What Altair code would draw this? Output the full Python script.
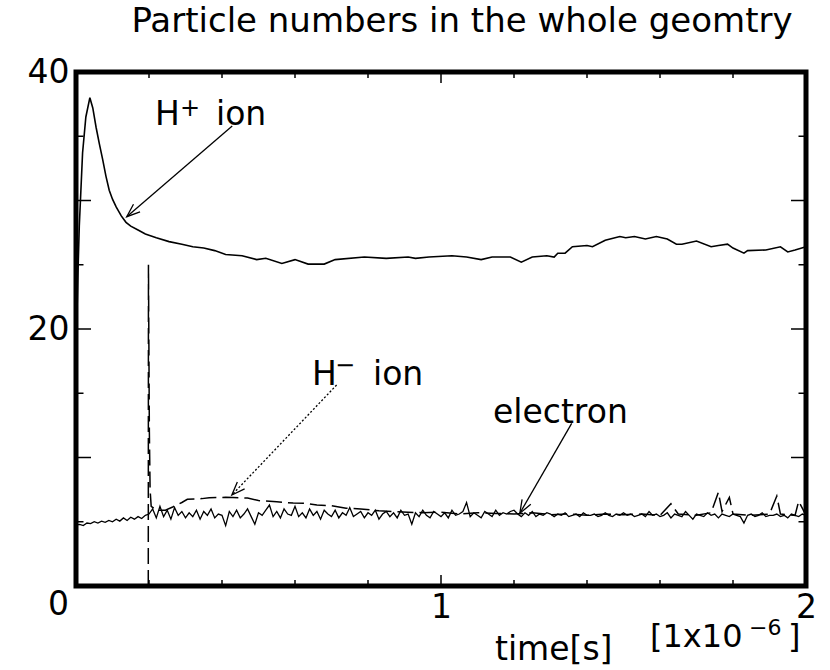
import math
import altair as alt
import pandas as pd

# ---------------- data ----------------
title_text = "Particle numbers in the whole geomtry"
x_label_values = [1, 2]
y_label_values = [20, 40]

hplus_t = [0, 0.005, 0.009, 0.018, 0.027, 0.038, 0.046, 0.055, 0.064, 0.073, 0.082,
           0.091, 0.10, 0.11, 0.124, 0.137, 0.15, 0.17, 0.19, 0.22, 0.255, 0.29,
           0.32, 0.35, 0.38, 0.41, 0.455, 0.495, 0.52, 0.564, 0.6, 0.636, 0.68,
           0.71, 0.79, 0.85, 0.91, 0.93, 0.967, 1.03, 1.07, 1.11, 1.14, 1.19,
           1.22, 1.25, 1.29, 1.31, 1.32, 1.34, 1.36, 1.40, 1.415, 1.45, 1.49,
           1.506, 1.53, 1.56, 1.59, 1.62, 1.645, 1.66, 1.70, 1.74, 1.76, 1.785,
           1.80, 1.83, 1.84, 1.89, 1.93, 1.95, 1.97, 2.0]
hplus_n = [18, 24, 28, 33.7, 36.5, 38.0, 37.2, 35.7, 34.4, 33.2, 31.9,
           30.8, 30.1, 29.5, 28.8, 28.3, 28.0, 27.7, 27.4, 27.1, 26.8, 26.6,
           26.4, 26.3, 26.1, 25.8, 25.7, 25.4, 25.5, 25.1, 25.4, 25.05, 25.05,
           25.4, 25.6, 25.5, 25.6, 25.5, 25.6, 25.7, 25.6, 25.4, 25.6, 25.6,
           25.2, 25.6, 25.7, 25.6, 25.9, 25.9, 26.4, 26.5, 26.4, 26.9, 27.2,
           27.1, 27.2, 27.0, 27.2, 27.0, 26.6, 26.6, 26.85, 26.4, 26.5, 26.6,
           26.3, 25.9, 26.1, 26.15, 26.4, 26.0, 26.15, 26.4]

hminus_t = [0.198, 0.1985, 0.201, 0.203, 0.206, 0.22, 0.245, 0.265, 0.29, 0.305,
            0.345, 0.365, 0.41, 0.43, 0.47, 0.5, 0.55, 0.595, 0.63, 0.66, 0.70,
            0.74, 0.78, 0.83, 0.88, 0.95, 1.0, 1.05, 1.1, 1.15, 1.2, 1.25, 1.3,
            1.35, 1.4, 1.45, 1.5, 1.55, 1.6, 1.63, 1.65, 1.7, 1.74, 1.76, 1.77,
            1.79, 1.8, 1.85, 1.9, 1.92, 1.93, 1.97, 1.98, 2.0]
hminus_n = [0, 25.0, 12.0, 7.5, 6.2, 5.9, 5.9, 6.15, 6.5, 6.75,
            6.8, 6.87, 6.9, 6.88, 6.85, 6.65, 6.55, 6.45, 6.43, 6.3, 6.25,
            6.05, 6.0, 5.85, 5.78, 5.7, 5.75, 5.6, 5.7, 5.65, 5.6, 5.7, 5.55,
            5.6, 5.5, 5.6, 5.55, 5.6, 5.5, 6.4, 5.6, 5.5, 5.7, 7.3, 5.8,
            6.9, 5.6, 5.5, 5.6, 7.0, 5.6, 5.5, 6.6, 5.5]

electron_n = [4.75, 4.8, 4.7, 4.9, 4.85, 5.0, 4.9, 5.05, 4.95, 5.1, 5.0, 5.2, 5.05, 5.3, 5.1, 5.35, 5.2, 5.4, 5.25, 5.5, 5.6,
              6.0, 5.3, 6.2, 5.4, 5.9, 5.2, 6.1, 5.5, 5.8, 5.3,
              5.7, 5.4, 5.9, 5.2, 5.8, 5.5, 6.0, 5.3, 5.6, 5.5,
              4.7, 5.8, 5.4, 5.9, 5.3, 5.6, 6.0, 5.4, 4.8, 5.7,
              5.5, 5.9, 6.3, 5.4, 5.8, 5.3, 6.0, 5.6, 5.5, 6.2,
              5.4, 5.7, 5.3, 6.0, 5.5, 5.8, 5.2, 5.9, 5.6, 5.4,
              5.9, 5.3, 5.7, 5.5, 6.1, 5.4, 5.6, 5.8, 5.3, 5.7,
              5.5, 5.9, 5.2, 5.6, 5.8, 5.4, 5.7, 5.3, 5.9, 5.5,
              5.6, 4.8, 5.7, 5.4, 5.9, 5.5, 5.3, 5.8, 5.6, 5.4,
              5.7, 5.3, 5.9, 5.5, 5.6, 5.8, 6.5, 5.4, 5.7, 5.5,
              5.3, 5.8, 5.6, 5.4, 5.9, 5.5, 5.7, 5.6, 5.8, 5.9,
              5.6, 5.4, 5.7, 5.5, 5.8, 5.4, 5.6, 5.5, 5.7, 5.6,
              5.4, 5.6, 5.5, 5.7, 5.4, 5.5, 5.6, 5.4, 5.7, 5.5,
              5.5, 5.6, 5.4, 5.5, 5.7, 5.5, 5.4, 5.6, 5.5, 5.7,
              5.5, 5.6, 5.4, 5.5, 5.6, 5.4, 5.8, 5.5, 5.6, 5.4,
              5.5, 5.7, 5.3, 5.6, 5.5, 5.4, 5.8, 5.5, 5.2, 5.6,
              5.5, 5.4, 5.7, 5.5, 5.6, 5.3, 5.6, 5.5, 5.4, 5.6,
              5.5, 5.4, 4.9, 5.5, 5.6, 5.4, 5.5, 5.7, 5.4, 5.5,
              5.5, 5.6, 5.4, 5.5, 5.3, 5.6, 5.5, 5.4, 5.6, 5.5]
electron_t = [round(i * 0.01, 2) for i in range(len(electron_n))]

x_ticks_minor = [0.2, 0.4, 0.6, 0.8, 1.2, 1.4, 1.6, 1.8]
x_ticks_major = [1.0]
y_ticks_minor = [5, 15, 25, 35]
y_ticks_major = [10, 20, 30]

# arrows: tail (t0, n0) -> head (t1, n1)
arrow_name = ["H+", "H-", "electron"]
arrow_t0 = [0.428, 0.714, 1.358]
arrow_n0 = [35.8, 15.64, 12.66]
arrow_t1 = [0.139, 0.427, 1.216]
arrow_n1 = [28.74, 7.08, 5.66]

label_text = ["H", "ion", "H", "ion", "electron"]
label_t = [0.2164, 0.3836, 0.6466, 0.8137, 1.1425]
label_n = [35.88, 35.88, 15.64, 15.64, 12.69]

sup_text = ["+", "\u2212"]
sup_t = [0.2850, 0.7096]
sup_n = [36.54, 16.54]

# ---------------- layout ----------------
W, H = 730, 514
FONT = "DejaVu Sans"
PX_T = W / 2.0
PX_N = H / 40.0

xs = alt.Scale(domain=[0, 2], nice=False, zero=False)
ys = alt.Scale(domain=[0, 40], nice=False, zero=False)

x_axis = alt.Axis(values=x_label_values, ticks=False, domain=False, grid=False,
                  labelFontSize=33, labelFont=FONT, labelColor="black",
                  labelPadding=5, labelFlush=False, title=None, format="d")
y_axis = alt.Axis(values=y_label_values, ticks=False, domain=False, grid=False,
                  labelFontSize=33, labelFont=FONT, labelColor="black",
                  labelPadding=7, labelFlush=False, title=None, format="d")


def X(field):
    return alt.X(field, type="quantitative", scale=xs, axis=x_axis, title=None)


def Y(field):
    return alt.Y(field, type="quantitative", scale=ys, axis=y_axis, title=None)


hplus_df = pd.DataFrame({"t": hplus_t, "n": hplus_n})
hminus_df = pd.DataFrame({"t": hminus_t, "n": hminus_n, "i": list(range(len(hminus_t)))})
elec_df = pd.DataFrame({"t": electron_t, "n": electron_n})

electron = alt.Chart(elec_df).mark_line(color="black", strokeWidth=1.3).encode(
    x=X("t"), y=Y("n"))
hminus = alt.Chart(hminus_df).mark_line(color="black", strokeWidth=1.5, strokeDash=[16, 6]).encode(
    x=X("t"), y=Y("n"), order="i:Q")
hplus = alt.Chart(hplus_df).mark_line(color="black", strokeWidth=1.6).encode(
    x=X("t"), y=Y("n"))

# arrows
arr_rows = []
head_rows = []
for k in range(len(arrow_name)):
    arr_rows.append({"a": arrow_name[k], "t": arrow_t0[k], "n": arrow_n0[k], "o": 0})
    arr_rows.append({"a": arrow_name[k], "t": arrow_t1[k], "n": arrow_n1[k], "o": 1})
    dx = (arrow_t1[k] - arrow_t0[k]) * PX_T
    dy = -(arrow_n1[k] - arrow_n0[k]) * PX_N
    ang = math.degrees(math.atan2(dy, dx)) % 360
    head_rows.append({"a": arrow_name[k], "t": arrow_t1[k], "n": arrow_n1[k], "ang": ang})
arr_df = pd.DataFrame(arr_rows)
head_df = pd.DataFrame(head_rows)

solid_arrows = alt.Chart(arr_df).transform_filter("datum.a != 'H-'").mark_line(
    color="black", strokeWidth=1.3).encode(x=X("t"), y=Y("n"), detail="a:N", order="o:Q")
dotted_arrow = alt.Chart(arr_df).transform_filter("datum.a == 'H-'").mark_line(
    color="black", strokeWidth=1.3, strokeDash=[2, 2]).encode(x=X("t"), y=Y("n"), detail="a:N", order="o:Q")
heads = alt.Chart(head_df).mark_point(
    shape="M -1 -0.38 L 0 0 L -1 0.38", filled=False, stroke="black",
    strokeWidth=1.3, size=700, opacity=1).encode(
    x=X("t"), y=Y("n"), angle=alt.Angle("ang:Q", scale=None))

# labels
lab_df = pd.DataFrame({"s": label_text, "t": label_t, "n": label_n})
labels = alt.Chart(lab_df).mark_text(font=FONT, fontSize=33, align="left",
                                     baseline="alphabetic", color="black").encode(
    x=X("t"), y=Y("n"), text="s:N")
sup_df = pd.DataFrame({"s": sup_text, "t": sup_t, "n": sup_n})
sups = alt.Chart(sup_df).mark_text(font=FONT, fontSize=24, align="left",
                                   baseline="alphabetic", color="black").encode(
    x=X("t"), y=Y("n"), text="s:N")

zero_df = pd.DataFrame({"s": ["0"], "t": [0], "n": [0]})
zero_label = alt.Chart(zero_df).mark_text(font=FONT, fontSize=33, align="right",
                                          baseline="middle", dx=-7, dy=19,
                                          color="black").encode(
    x=X("t"), y=Y("n"), text="s:N")


# ticks drawn inward
def xticks(vals, length, bottom=True):
    d = pd.DataFrame({"v": vals})
    if bottom:
        yy, yy2 = alt.value(H), alt.value(H - length)
    else:
        yy, yy2 = alt.value(0), alt.value(length)
    return alt.Chart(d).mark_rule(color="black", strokeWidth=1.5).encode(x=X("v"), y=yy, y2=yy2)


def yticks(vals, length, left=True):
    d = pd.DataFrame({"v": vals})
    if left:
        xx, xx2 = alt.value(0), alt.value(length)
    else:
        xx, xx2 = alt.value(W), alt.value(W - length)
    return alt.Chart(d).mark_rule(color="black", strokeWidth=1.5).encode(y=Y("v"), x=xx, x2=xx2)


ticks = [
    xticks(x_ticks_minor, 6, True), xticks(x_ticks_major, 11, True),
    xticks(x_ticks_minor, 6, False), xticks(x_ticks_major, 11, False),
    yticks(y_ticks_minor, 7.5, True), yticks(y_ticks_major, 15, True),
    yticks(y_ticks_minor, 7.5, False), yticks(y_ticks_major, 15, False),
]


# title and axis unit texts (page layout text)
def free_text(s, x, y, size, align="left"):
    d = pd.DataFrame({"s": [s]})
    return alt.Chart(d).mark_text(font=FONT, fontSize=size, align=align,
                                  baseline="alphabetic", color="black").encode(
        x=alt.value(x), y=alt.value(y), text="s:N")


title = free_text(title_text, 386, -40, 34, "center")
xlab = free_text("time[s]", 419, 588, 33)
unit1 = free_text("[1x10", 574, 575, 32)
unit2 = free_text("\u22126", 673, 563, 22)
unit3 = free_text("]", 712, 575, 32)

chart = alt.layer(
    hplus, electron, hminus, solid_arrows, dotted_arrow, heads,
    labels, sups, zero_label, *ticks, title, xlab, unit1, unit2, unit3
).properties(
    width=W, height=H,
    autosize=alt.AutoSizeParams(type="none"),
    padding={"left": 76, "top": 72, "right": 24, "bottom": 84},
    background="white",
).configure_view(
    stroke="black", strokeWidth=5
)

chart.save("out.html", embed_options={"renderer": "svg", "actions": False})
